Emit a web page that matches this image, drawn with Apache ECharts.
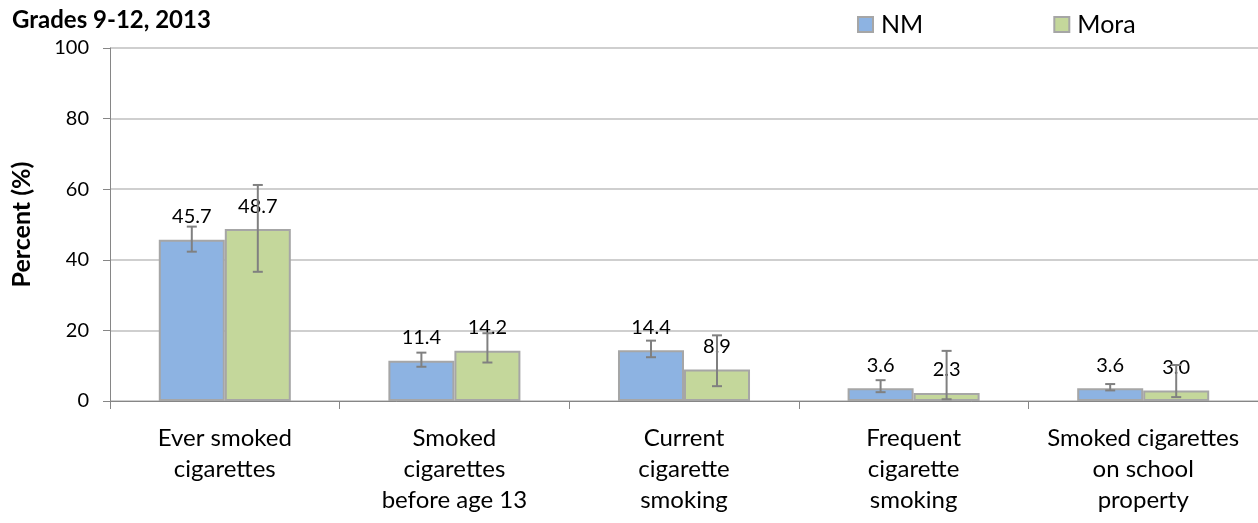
<!DOCTYPE html>
<html><head><meta charset="utf-8">
<script src="https://cdn.jsdelivr.net/npm/echarts@6/dist/echarts.min.js"></script>
<style>html,body{margin:0;padding:0;background:#fff}#c{width:1258px;height:523px}</style>
</head><body><div id="c"></div>
<script>
const categories = ["Ever smoked\ncigarettes", "Smoked\ncigarettes\nbefore age 13", "Current\ncigarette\nsmoking", "Frequent\ncigarette\nsmoking", "Smoked cigarettes\non school\nproperty"];
const nmValues = [45.7, 11.4, 14.4, 3.6, 3.6];
const moraValues = [48.7, 14.2, 8.9, 2.3, 3.0];
const nmLow = [42.3, 9.7, 12.4, 2.5, 3.0];
const nmHigh = [49.4, 13.7, 17.1, 5.9, 4.8];
const moraLow = [36.6, 10.9, 4.2, 0.5, 1.1];
const moraHigh = [61.2, 19.2, 18.6, 14.2, 10.2];
const yTicks = [0, 20, 40, 60, 80, 100];

const FONT = "Lato, 'Open Sans', sans-serif";
const GAP = 0.425;

function errSeries(name, low, high, side) {
  return {
    type: 'custom', name: name + ' err', z: 5,
    data: low.map((l, i) => [i, l, high[i]]),
    renderItem: function (params, api) {
      const band = api.size([1, 0])[0];
      const bw = band * (1 - GAP) / 2;
      const c = api.coord([api.value(0), api.value(1)]);
      const t = api.coord([api.value(0), api.value(2)]);
      const x = c[0] + side * bw / 2;
      const cap = 5;
      const st = { stroke: '#808080', lineWidth: 2 };
      return { type: 'group', children: [
        { type: 'line', shape: { x1: x, y1: c[1], x2: x, y2: t[1] }, style: st },
        { type: 'line', shape: { x1: x - cap, y1: c[1], x2: x + cap, y2: c[1] }, style: st },
        { type: 'line', shape: { x1: x - cap, y1: t[1], x2: x + cap, y2: t[1] }, style: st }
      ]};
    },
    tooltip: { show: false }, silent: true
  };
}

const chart = echarts.init(document.getElementById('c'));
chart.setOption({
  animation: false,
  textStyle: { fontFamily: FONT },
  title: { text: 'Grades 9-12, 2013', left: 7, top: 3, textStyle: { fontFamily: FONT, fontSize: 24, fontWeight: 'bold', color: '#000' } },
  legend: {
    top: 7, left: 852, itemGap: 130, itemWidth: 15, itemHeight: 15, icon: 'rect',
    data: ['NM', 'Mora'],
    textStyle: { fontFamily: FONT, fontSize: 25, color: '#000', padding: [0, 0, 0, 3] }
  },
  grid: { left: 110, right: 0, top: 48, bottom: 122, outerBoundsMode: 'none', containLabel: false },
  xAxis: {
    type: 'category', data: categories,
    axisLine: { lineStyle: { color: '#868686', width: 1 } },
    axisTick: { show: true, length: 8, alignWithLabel: false, lineStyle: { color: '#868686' } },
    axisLabel: { interval: 0, fontFamily: FONT, fontSize: 24, color: '#000', lineHeight: 31, margin: 22 }
  },
  yAxis: {
    type: 'value', min: 0, max: 100, interval: 20,
    name: 'Percent (%)', nameLocation: 'middle', nameGap: 76, nameRotate: 90,
    nameTextStyle: { fontFamily: FONT, fontSize: 25, fontWeight: 'bold', color: '#000' },
    axisLine: { show: true, lineStyle: { color: '#868686' } },
    axisTick: { show: true, length: 7, lineStyle: { color: '#868686' } },
    axisLabel: { fontFamily: FONT, fontSize: 20, color: '#000', margin: 21,
      formatter: v => yTicks.includes(v) ? String(v) : '' },
    splitLine: { lineStyle: { color: '#BFBFBF', width: 1.5 } }
  },
  series: [
    { name: 'NM', type: 'bar', data: nmValues, barGap: '0%', barCategoryGap: (GAP * 100) + '%',
      itemStyle: { color: '#8DB3E2', borderColor: '#A6A6A6', borderWidth: 2 },
      label: { show: true, position: 'top', distance: 13, fontFamily: FONT, fontSize: 20, color: '#000', formatter: p => p.value.toFixed(1) } },
    { name: 'Mora', type: 'bar', data: moraValues,
      itemStyle: { color: '#C4D79B', borderColor: '#A6A6A6', borderWidth: 2 },
      label: { show: true, position: 'top', distance: 13, fontFamily: FONT, fontSize: 20, color: '#000', formatter: p => p.value.toFixed(1) } },
    errSeries('NM', nmLow, nmHigh, -1),
    errSeries('Mora', moraLow, moraHigh, 1)
  ]
});
</script></body></html>
